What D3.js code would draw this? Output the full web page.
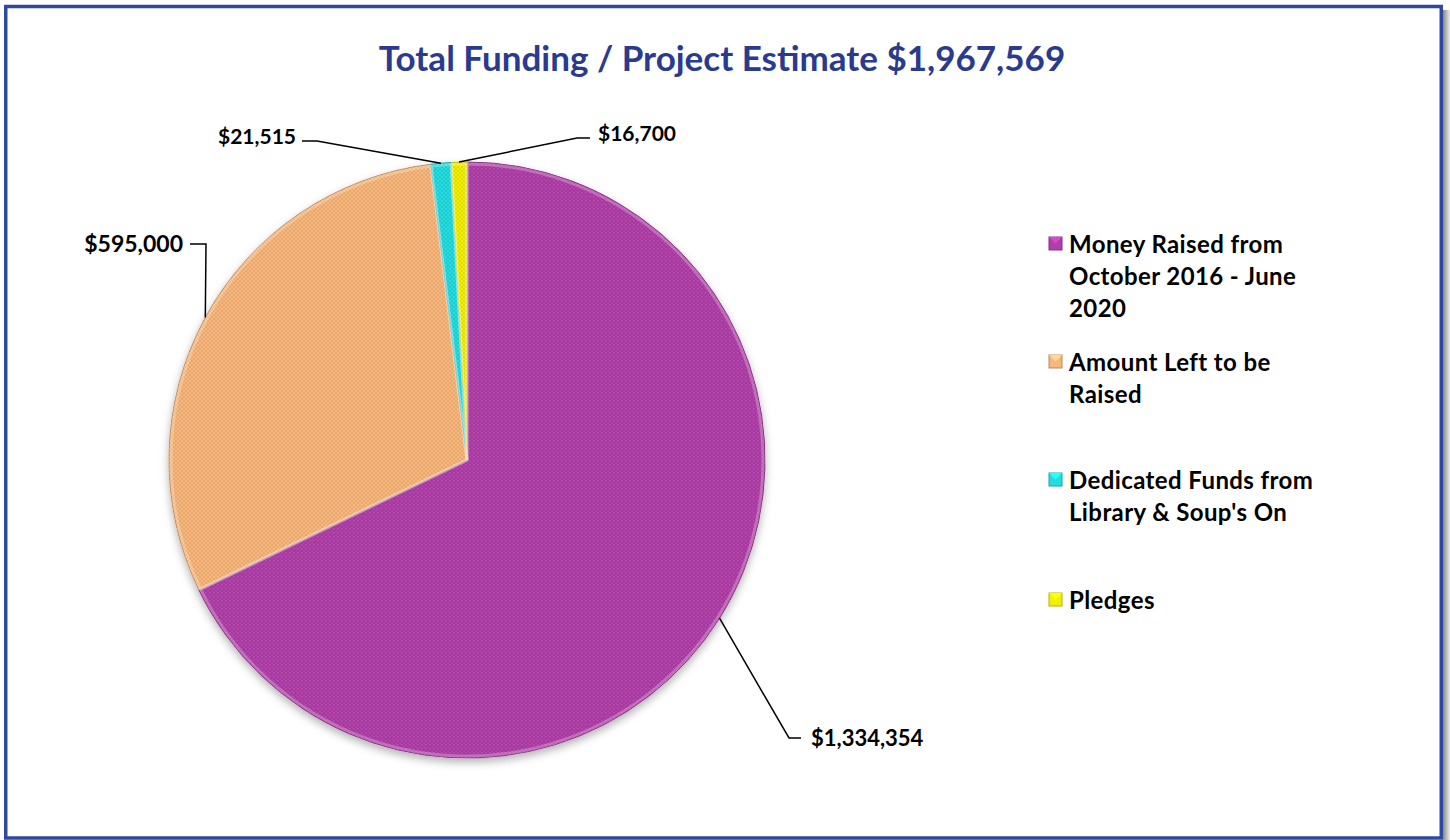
<!DOCTYPE html>
<html>
<head>
<meta charset="utf-8">
<script src="https://cdn.jsdelivr.net/npm/d3@7"></script>
<style>
  html, body { margin: 0; padding: 0; background: #fff; }
  svg { display: block; }
  text { font-family: Lato, "Open Sans", sans-serif; font-weight: 700; }
</style>
</head>
<body>
<svg id="chart" width="1450" height="840"></svg>
<script>
// DATA
const categories = [
  "Money Raised from October 2016 - June 2020",
  "Amount Left to be Raised",
  "Dedicated Funds from Library & Soup's On",
  "Pledges",
];
const values = [1334354, 595000, 21515, 16700];
const legendLines = [
  ["Money Raised from", "October 2016 - June", "2020"],
  ["Amount Left to be", "Raised"],
  ["Dedicated Funds from", "Library & Soup's On"],
  ["Pledges"],
];
const colors = ["#b13fa9", "#f8b67a", "#22dcdf", "#f2f005"];
const titleText = "Total Funding / Project Estimate $1,967,569";

// LAYOUT
const svg = d3.select("#chart");
const W = 1450, H = 840;
const cx = 467, cy = 460, r = 298;

// label placement: text position, elbow point, end of horizontal tick
const labelLayout = [
  { tx: 811, ty: 746, anchor: "start", ex: 789, ey: 738, hx: 801, fs: 22 },
  { tx: 183, ty: 252, anchor: "end", ex: 206, ey: 244, hx: 190, fs: 23 },
  { tx: 296, ty: 144, anchor: "end", ex: 317, ey: 141, hx: 302, fs: 21 },
  { tx: 598, ty: 141, anchor: "start", ex: 577, ey: 138, hx: 590, fs: 21 },
];

const fmt = d3.format("$,");

// DEFS
const defs = svg.append("defs");

const pat = defs
  .append("pattern")
  .attr("id", "weave")
  .attr("patternUnits", "userSpaceOnUse")
  .attr("width", 4)
  .attr("height", 4);
pat.append("rect").attr("width", 2).attr("height", 2).attr("fill", "#000").attr("opacity", 0.08);
pat.append("rect").attr("x", 2).attr("y", 2).attr("width", 2).attr("height", 2).attr("fill", "#000").attr("opacity", 0.08);
pat.append("rect").attr("x", 2).attr("width", 1).attr("height", 1).attr("fill", "#fff").attr("opacity", 0.12);

const shadow = defs.append("filter").attr("id", "shadow")
  .attr("x", "-10%").attr("y", "-10%").attr("width", "120%").attr("height", "125%");
shadow.append("feDropShadow")
  .attr("dx", 0).attr("dy", 4).attr("stdDeviation", 4)
  .attr("flood-color", "#000").attr("flood-opacity", 0.3);

const sideShade = defs.append("linearGradient").attr("id", "sideShade");
sideShade.append("stop").attr("offset", "0%").attr("stop-color", "#888");
sideShade.append("stop").attr("offset", "100%").attr("stop-color", "#eee");

// FRAME
svg.append("rect").attr("x", 1443).attr("y", 10).attr("width", 7).attr("height", H - 10)
  .attr("fill", "url(#sideShade)");
svg.append("rect")
  .attr("x", 5.75).attr("y", 6.5)
  .attr("width", 1435.5).attr("height", 831.5)
  .attr("fill", "#fff")
  .attr("stroke", "#2e4a9f")
  .attr("stroke-width", 3.5);

// TITLE
svg.append("text")
  .attr("x", 722).attr("y", 71)
  .attr("text-anchor", "middle")
  .attr("fill", "#293a8f")
  .style("font-size", "35px")
  .text(titleText);

// PIE
const pie = d3.pie().sort(null).value((d) => d)(values);
const arc = d3.arc().innerRadius(0).outerRadius(r);
const edge = d3.arc().innerRadius(r).outerRadius(r);

const gp = svg.append("g").attr("transform", `translate(${cx},${cy})`);
const gs = gp.append("g").attr("filter", "url(#shadow)");

gs.selectAll("path.slice")
  .data(pie)
  .join("path")
  .attr("class", "slice")
  .attr("d", arc)
  .attr("fill", (d, i) => colors[i])
  .attr("stroke", (d, i) => d3.color(colors[i]).darker(0.6))
  .attr("stroke-width", 1);

gp.selectAll("path.tex")
  .data(pie)
  .join("path")
  .attr("class", "tex")
  .attr("d", arc)
  .attr("fill", "url(#weave)");

// bevel highlight along slice edges
gp.selectAll("path.bevel")
  .data(pie)
  .join("path")
  .attr("class", "bevel")
  .attr("d", d3.arc().innerRadius(0).outerRadius(r - 2))
  .attr("fill", "none")
  .attr("stroke", "#fff")
  .attr("stroke-opacity", 0.25)
  .attr("stroke-width", 3);

// LEADER LINES + LABELS
const gl = svg.append("g");
pie.forEach((d, i) => {
  const [px, py] = edge.centroid(d);
  const L = labelLayout[i];
  gl.append("polyline")
    .attr("points", [[cx + px, cy + py], [L.ex, L.ey], [L.hx, L.ey]].map((p) => p.join(",")).join(" "))
    .attr("fill", "none")
    .attr("stroke", "#000")
    .attr("stroke-width", 1.5);
  gl.append("text")
    .attr("x", L.tx).attr("y", L.ty)
    .attr("text-anchor", L.anchor)
    .attr("fill", "#000")
    .style("font-size", L.fs + "px")
    .text(fmt(values[i]));
});

// LEGEND
const legendTop = [253, 371, 489, 609];
const lg = svg.append("g");
categories.forEach((c, i) => {
  const y0 = legendTop[i];
  const col = d3.color(colors[i]);
  lg.append("rect")
    .attr("x", 1049).attr("y", y0 - 16)
    .attr("width", 13).attr("height", 13)
    .attr("fill", colors[i])
    .attr("stroke", col.darker(0.8))
    .attr("stroke-width", 1);
  lg.append("path")
    .attr("d", `M${1049},${y0 - 16}L${1055.5},${y0 - 9.5}L${1062},${y0 - 16}Z`)
    .attr("fill", col.brighter(0.5));
  lg.append("text")
    .attr("x", 1069).attr("y", y0)
    .attr("fill", "#000")
    .style("font-size", "24px")
    .style("letter-spacing", "0.4px")
    .selectAll("tspan")
    .data(legendLines[i])
    .join("tspan")
    .attr("x", 1069)
    .attr("dy", (d, j) => (j ? 32 : 0))
    .text((d) => d);
});
</script>
</body>
</html>
